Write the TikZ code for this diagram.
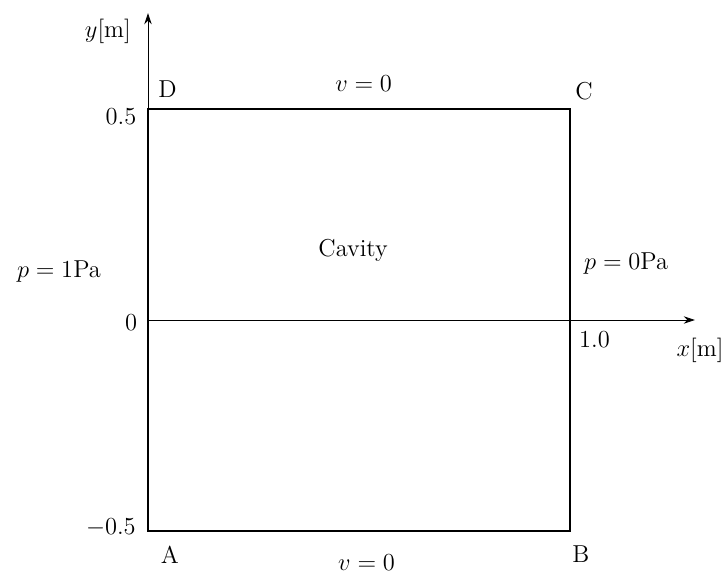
\RequirePackage{fix-cm}
\documentclass[tikz,border=0pt]{standalone}
\usepackage{tikz}
\usetikzlibrary{calc, positioning, arrows.meta}

\begin{document}
\begin{tikzpicture}[
  x=8cm, y=8cm,
  axis/.style={-{Stealth[length=6pt,width=4pt]}, line width=0.45pt},
  wall/.style={draw=black, line width=1.4pt},
  lbl/.style={font=\fontsize{13.2}{16}\selectfont, inner sep=0pt},
]
\useasboundingbox (-0.3507,-0.5995) rectangle (1.3697,0.7583);

\coordinate (O) at (0,0);
\coordinate (xend) at (1.296,0);
\coordinate (yend) at (0,0.727);
\coordinate (cA) at (0,-0.5);
\coordinate (cB) at (1,-0.5);
\coordinate (cC) at (1,0.5);
\coordinate (cD) at (0,0.5);

\draw[axis] (O) -- (xend);
\draw[axis] (cA) -- (yend);
\draw[wall] (cA) -- (cB) -- (cC) -- (cD) -- cycle;

\node[lbl] (ylab) at (-0.095,0.685) {$y$[m]};
\node[lbl] (xlab) at (1.308,-0.073) {$x$[m]};
\node[lbl] (tickhi) at (-0.064,0.483) {$0.5$};
\node[lbl] (ticklo) at (-0.088,-0.493) {$-0.5$};
\node[lbl] (tickzero) at (-0.040,-0.007) {$0$};
\node[lbl] (tickone) at (1.058,-0.046) {1.0};

\node[lbl] (labA) at (0.052,-0.557) {A};
\node[lbl] (labB) at (1.026,-0.556) {B};
\node[lbl] (labC) at (1.033,0.543) {C};
\node[lbl] (labD) at (0.046,0.546) {D};

\node[lbl] (top) at (0.511,0.560) {$v=0$};
\node[lbl] (bottom) at (0.518,-0.576) {$v=0$};
\node[lbl] (inlet) at (-0.211,0.114) {$p=1$Pa};
\node[lbl] (outlet) at (1.133,0.135) {$p=0$Pa};
\node[lbl] (cavity) at (0.486,0.164) {Cavity};
\end{tikzpicture}
\end{document}
